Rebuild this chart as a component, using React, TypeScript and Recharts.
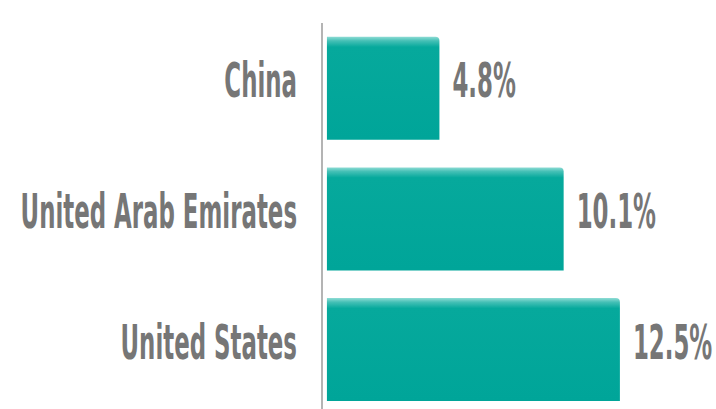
import React from "react";
import { BarChart, Bar, XAxis, YAxis, LabelList } from "recharts";

const countries = ["China", "United Arab Emirates", "United States"];
const shares = [4.8, 10.1, 12.5];

const data = countries.map((c, i) => ({ country: c, value: shares[i] }));

const FONT = "'DejaVu Sans Condensed', 'DejaVu Sans', sans-serif";
const TEXT = "#767676";
const SX = 0.53;

const CountryTick = (props: any) => {
  const { x, y, payload } = props;
  return (
    <g transform={`translate(${x},${y}) scale(${SX},1)`}>
      <text
        x={0}
        y={9}
        textAnchor="end"
        fill={TEXT}
        fontFamily={FONT}
        fontWeight="bold"
        fontSize={48}
      >
        {payload.value}
      </text>
    </g>
  );
};

const ValueLabel = (props: any) => {
  const { x, y, width, height, value } = props;
  return (
    <g transform={`translate(${x + width + 13},${y + height / 2}) scale(${SX},1)`}>
      <text
        x={0}
        y={9}
        textAnchor="start"
        fill={TEXT}
        fontFamily={FONT}
        fontWeight="bold"
        fontSize={48}
      >
        {`${value}%`}
      </text>
    </g>
  );
};

export default function App() {
  return (
    <div
      style={{
        position: "absolute",
        left: 0,
        top: 0,
        width: 716,
        height: 409,
        overflow: "hidden",
        background: "#fff",
      }}
    >
      <BarChart
        width={716}
        height={415}
        data={data}
        layout="vertical"
        margin={{ top: 23, right: 0, bottom: 0, left: 0 }}
        barCategoryGap="10.5%"
      >
        <defs>
          <linearGradient id="tealGrad" x1="0" y1="0" x2="0" y2="1">
            <stop offset="0%" stopColor="#8fdcd5" />
            <stop offset="4%" stopColor="#45c0b6" />
            <stop offset="10%" stopColor="#06a99c" />
            <stop offset="100%" stopColor="#00a599" />
          </linearGradient>
        </defs>
        <XAxis type="number" hide domain={[-0.21, 16.6]} />
        <YAxis
          type="category"
          dataKey="country"
          width={322}
          axisLine={{ stroke: "#b4b4b4", strokeWidth: 2 }}
          tickLine={false}
          tick={<CountryTick />}
          tickMargin={19}
          interval={0}
        />
        <Bar dataKey="value" fill="url(#tealGrad)" radius={[0, 4, 0, 0]} isAnimationActive={false}>
          <LabelList dataKey="value" content={<ValueLabel />} />
        </Bar>
      </BarChart>
    </div>
  );
}
